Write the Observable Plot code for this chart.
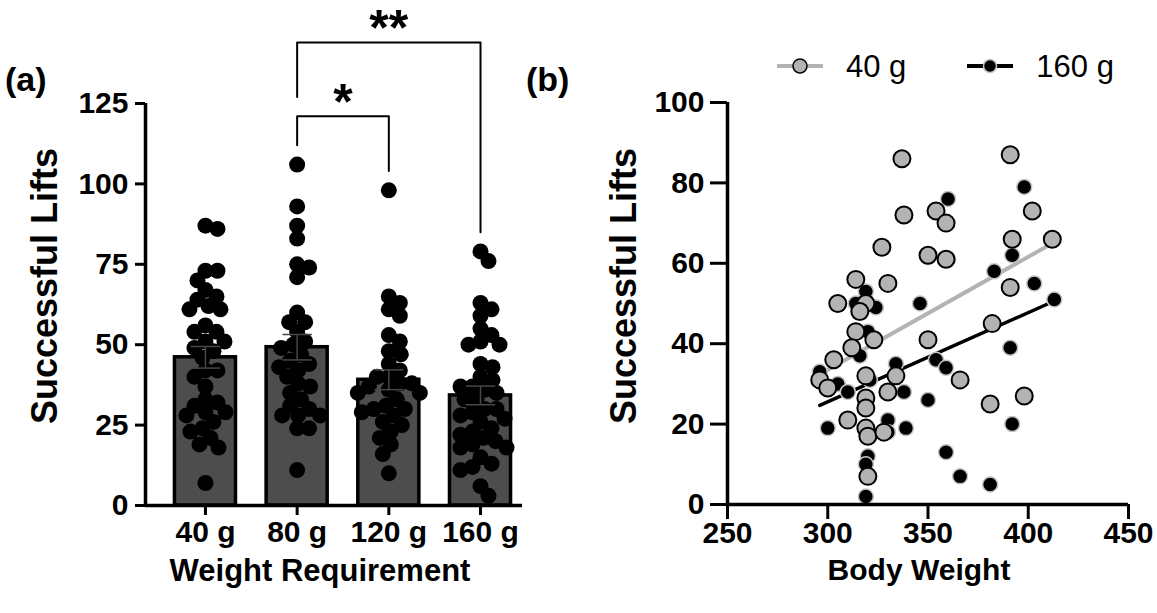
<!DOCTYPE html>
<html>
<head>
<meta charset="utf-8">
<script src="https://cdn.jsdelivr.net/npm/d3@7"></script>
<script src="https://cdn.jsdelivr.net/npm/@observablehq/plot@0.6"></script>
<style>
  body { margin: 0; background: #fff; }
  #wrap { position: relative; width: 1157px; height: 613px; overflow: hidden;
          font-family: "Liberation Sans", Arial, Helvetica, sans-serif; color: #000; }
  .abs { position: absolute; white-space: nowrap; line-height: 1; }
  .bold { font-weight: bold; }
  .rot { transform: translate(-50%, -50%) rotate(-90deg); }
  .ctr { transform: translateX(-50%); }
</style>
</head>
<body>
<div id="wrap"></div>
<script>
// ---------------- DATA ----------------
// Panel (a): successful lifts per weight requirement
const groups = ["40 g", "80 g", "120 g", "160 g"];
const lifts_40g  = [87, 86, 73, 73, 70, 67, 65, 62, 64, 61, 61, 56, 54, 54, 51, 51, 49, 48, 46, 42, 42, 40, 37, 33, 32, 31, 29, 28, 29, 26, 24, 23, 21, 19, 18, 7];
const lifts_80g  = [106, 93, 87, 83, 74, 75, 71, 60, 57, 57, 54, 51, 50, 49, 47, 44, 43, 42, 38, 37, 33, 31, 30, 28, 28, 28, 24, 24, 11, 45, 40, 35];
const lifts_120g = [98, 65, 63, 61, 59, 53, 51, 48, 47, 44, 42, 40, 38, 37, 35, 30, 29, 28, 25, 23, 21, 19, 16, 10, 38, 36, 33, 31, 30, 26, 35, 40];
const lifts_160g = [79, 76, 63, 61, 59, 55, 53, 51, 50, 50, 44, 43, 40, 39, 37, 37, 35, 33, 30, 29, 26, 23, 21, 19, 18, 13, 11, 6, 3, 30, 27, 24, 20, 15, 33, 28, 22, 18, 12, 36];
const comparisons = [["80 g", "120 g", "*"], ["80 g", "160 g", "**"]];
const yTicksA = [0, 25, 50, 75, 100, 125];

// Panel (b): successful lifts vs body weight
const bodyWeight_40g = [337, 391, 338, 327, 314, 330, 305, 319, 316, 314, 323, 312, 303, 296, 300, 319, 334, 330, 319, 319, 310, 319, 320, 328, 320, 354, 359, 350, 359, 350, 382, 391, 392, 402, 412, 366, 381, 398];
const liftsB_40g     = [86, 87, 72, 64, 56, 55, 50, 50, 48, 43, 41, 39, 36, 31, 29, 32, 32, 28, 26.5, 24, 21, 19, 17, 18, 7, 73, 70, 62, 61, 41, 45, 54, 66, 73, 66, 31, 25, 27];
const bodyWeight_160g = [319, 314, 324, 320, 316, 296, 305, 310, 321, 334, 338, 300, 330, 330, 339, 320, 319, 319, 360, 398, 392, 383, 403, 413, 346, 350, 360, 391, 354, 359, 350, 392, 359, 366, 381];
const liftsB_160g     = [53, 50, 49, 43, 37, 33, 30, 28, 31, 35, 28, 19, 21, 18, 19, 12, 10, 2, 76, 79, 62, 58, 55, 51, 50, 61.5, 61, 39, 36, 34, 26, 20, 13, 7, 5];
const xTicksB = [250, 300, 350, 400, 450];
const yTicksB = [0, 20, 40, 60, 80, 100];
const legendLabels = ["40 g", "160 g"];

// ---------------- LAYOUT / STYLE ----------------
const FONT = '"Liberation Sans", Arial, Helvetica, sans-serif';
const GRAY = "#b3b3b3";
const BARFILL = "#4d4d4d";
const TICKFS = 30;

const wrap = document.getElementById("wrap");
function addDiv(html, css, cls) {
  const d = document.createElement("div");
  d.className = "abs " + (cls || "");
  d.innerHTML = html;
  Object.assign(d.style, css);
  wrap.appendChild(d);
  return d;
}

// beeswarm-like spread (pixel units) so that dots overlap only partially
function swarm(vals, pxPerUnit, minDist, step) {
  const order = d3.range(vals.length).sort((a, b) => d3.descending(vals[a], vals[b]));
  const placed = [], off = new Array(vals.length);
  for (const i of order) {
    const y = vals[i] * pxPerUnit;
    for (let k = 0; k < 400; k++) {
      const c = k === 0 ? 0 : (k % 2 ? 1 : -1) * Math.ceil(k / 2) * step;
      if (placed.every(p => (p.x - c) ** 2 + (p.y - y) ** 2 >= minDist * minDist)) {
        off[i] = c; placed.push({x: c, y}); break;
      }
    }
  }
  return off;
}

// ---------------- PANEL (a) ----------------
const A = {w: 560, h: 613, ml: 145, mr: 38, mt: 103, mb: 108};
const xDomA = [0.346, 4.458];
const yDomA = [0, 125];
const pxX = (A.w - A.ml - A.mr) / (xDomA[1] - xDomA[0]);
const pxY = (A.h - A.mt - A.mb) / (yDomA[1] - yDomA[0]);
const series = [lifts_40g, lifts_80g, lifts_120g, lifts_160g];

const points = [];
series.forEach((vals, gi) => {
  const off = swarm(vals, pxY, 12, 1);
  vals.forEach((v, j) => points.push({g: gi + 1, v, x: gi + 1 + off[j] / pxX}));
});
const stats = series.map((vals, gi) => ({
  g: gi + 1,
  mean: d3.mean(vals),
  sem: d3.deviation(vals) / Math.sqrt(vals.length),
  max: d3.max(vals)
}));

// significance brackets computed from the group maxima
const brackets = [];
const bracketLines = [];
comparisons.forEach(([a, b, label], k) => {
  const ia = groups.indexOf(a) + 1, ib = groups.indexOf(b) + 1;
  const prevTouch = g => d3.max(brackets.filter(br => br.ia === g || br.ib === g), br => br.top) ?? -Infinity;
  const spanMax = d3.max(stats.filter(s => s.g >= ia && s.g <= ib), s => s.max);
  const prevTop = d3.max(brackets, br => br.top) ?? -Infinity;
  const top = Math.max(spanMax + 15, prevTop + 23);
  const botA = Math.max(stats[ia - 1].max + 6, prevTouch(ia) + 6);
  const botB = Math.max(stats[ib - 1].max + 6, prevTouch(ib) + 6);
  brackets.push({ia, ib, top, label, mid: (ia + ib) / 2});
  bracketLines.push({k, x: ia, y: botA}, {k, x: ia, y: top}, {k, x: ib, y: top}, {k, x: ib, y: botB});
});

const plotA = Plot.plot({
  width: A.w, height: A.h,
  marginLeft: A.ml, marginRight: A.mr, marginTop: A.mt, marginBottom: A.mb,
  style: {fontFamily: FONT, background: "transparent", overflow: "visible", color: "black"},
  x: {domain: xDomA},
  y: {domain: yDomA},
  marks: [
    Plot.rectY(stats, {x1: d => d.g - 0.333, x2: d => d.g + 0.333, y1: 0, y2: "mean",
                       fill: BARFILL, stroke: "black", strokeWidth: 3.5}),
    Plot.dot(points, {x: "x", y: "v", r: 8, fill: "black", stroke: "none"}),
    Plot.link(stats, {x1: "g", x2: "g", y1: d => d.mean - d.sem, y2: d => d.mean + d.sem, stroke: "#474747", strokeWidth: 1.5}),
    Plot.link(stats, {x1: d => d.g - 0.16, x2: d => d.g + 0.16, y1: d => d.mean + d.sem, y2: d => d.mean + d.sem, stroke: "#474747", strokeWidth: 1.5}),
    Plot.link(stats, {x1: d => d.g - 0.16, x2: d => d.g + 0.16, y1: d => d.mean - d.sem, y2: d => d.mean - d.sem, stroke: "#474747", strokeWidth: 1.5}),
    Plot.line(bracketLines, {x: "x", y: "y", z: "k", stroke: "black", strokeWidth: 2}),
    Plot.text(brackets, {x: "mid", y: "top", text: "label", lineAnchor: "bottom", dy: 3,
                         fontSize: 50, fontWeight: "bold", fill: "black"}),
    Plot.ruleY([0], {stroke: "black", strokeWidth: 3.5}),
    Plot.ruleX([xDomA[0]], {stroke: "black", strokeWidth: 3.5}),
    Plot.axisY({ticks: yTicksA, tickSize: 10, tickPadding: 7, strokeWidth: 3, fontSize: TICKFS,
                fontWeight: "bold", label: null, fill: "black"}),
    Plot.axisX({ticks: [1, 2, 3, 4], tickFormat: i => groups[i - 1], tickSize: 10, tickPadding: 5,
                strokeWidth: 3, fontSize: TICKFS, fontWeight: "bold", label: null, fill: "black"})
  ]
});
plotA.style.position = "absolute";
plotA.style.left = "0px";
plotA.style.top = "0px";
wrap.appendChild(plotA);

// ---------------- PANEL (b) ----------------
const B = {left: 560, w: 597, h: 613, ml: 167, mr: 29, mt: 102, mb: 109};
const d40 = bodyWeight_40g.map((bw, i) => ({bw, lifts: liftsB_40g[i]}));
const d160 = bodyWeight_160g.map((bw, i) => ({bw, lifts: liftsB_160g[i]}));

const plotB = Plot.plot({
  width: B.w, height: B.h,
  marginLeft: B.ml, marginRight: B.mr, marginTop: B.mt, marginBottom: B.mb,
  style: {fontFamily: FONT, background: "transparent", overflow: "visible", color: "black"},
  x: {domain: [xTicksB[0], xTicksB[xTicksB.length - 1]]},
  y: {domain: [yTicksB[0], yTicksB[yTicksB.length - 1]]},
  marks: [
    Plot.linearRegressionY(d160, {x: "bw", y: "lifts", stroke: "black", strokeWidth: 3.5, ci: 0}),
    Plot.linearRegressionY(d40, {x: "bw", y: "lifts", stroke: GRAY, strokeWidth: 4, ci: 0}),
    Plot.dot(d160, {x: "bw", y: "lifts", r: 7.5, fill: "black", stroke: "#c4c4c4", strokeWidth: 1.5}),
    Plot.dot(d40, {x: "bw", y: "lifts", r: 8.5, fill: GRAY, stroke: "black", strokeWidth: 2}),
    Plot.ruleY([yTicksB[0]], {stroke: "black", strokeWidth: 3.5}),
    Plot.ruleX([xTicksB[0]], {stroke: "black", strokeWidth: 3.5}),
    Plot.axisY({ticks: yTicksB, tickSize: 17, tickPadding: 6, strokeWidth: 3, fontSize: TICKFS,
                fontWeight: "bold", label: null, fill: "black"}),
    Plot.axisX({ticks: xTicksB, tickSize: 15, tickPadding: 2, strokeWidth: 3, fontSize: TICKFS,
                fontWeight: "bold", label: null, fill: "black"})
  ]
});
plotB.style.position = "absolute";
plotB.style.left = B.left + "px";
plotB.style.top = "0px";
wrap.appendChild(plotB);

// ---------------- TEXT ----------------
addDiv("(a)", {left: "5px", top: "62px", fontSize: "34px"}, "bold");
addDiv("(b)", {left: "526px", top: "62px", fontSize: "34px"}, "bold");
addDiv("Successful Lifts", {left: "45px", top: "286px", fontSize: "36px"}, "bold rot");
addDiv("Successful Lifts", {left: "624px", top: "286px", fontSize: "36px"}, "bold rot");
addDiv("Weight Requirement", {left: "320px", top: "555px", fontSize: "31px"}, "bold ctr");
addDiv("Body Weight", {left: "919px", top: "555px", fontSize: "30px"}, "bold ctr");

// ---------------- LEGEND ----------------
const legend = addDiv("", {left: "776px", top: "46px", display: "flex", alignItems: "center", fontSize: "31px"});
const legendStyles = [
  {line: GRAY, fill: GRAY, stroke: "black", r: 7},
  {line: "black", fill: "black", stroke: "#c4c4c4", r: 6.5}
];
legendLabels.forEach((lab, i) => {
  const s = legendStyles[i];
  const item = document.createElement("div");
  item.style.display = "flex";
  item.style.alignItems = "center";
  item.style.marginLeft = i === 0 ? "0px" : "60px";
  item.innerHTML =
    `<svg width="48" height="40" style="display:block">
       <line x1="1" y1="20" x2="47" y2="20" stroke="${s.line}" stroke-width="4"/>
       <circle cx="24" cy="20" r="${s.r}" fill="${s.fill}" stroke="${s.stroke}" stroke-width="1.5"/>
     </svg><span style="margin-left:22px;line-height:1">${lab}</span>`;
  legend.appendChild(item);
});
</script>
</body>
</html>
